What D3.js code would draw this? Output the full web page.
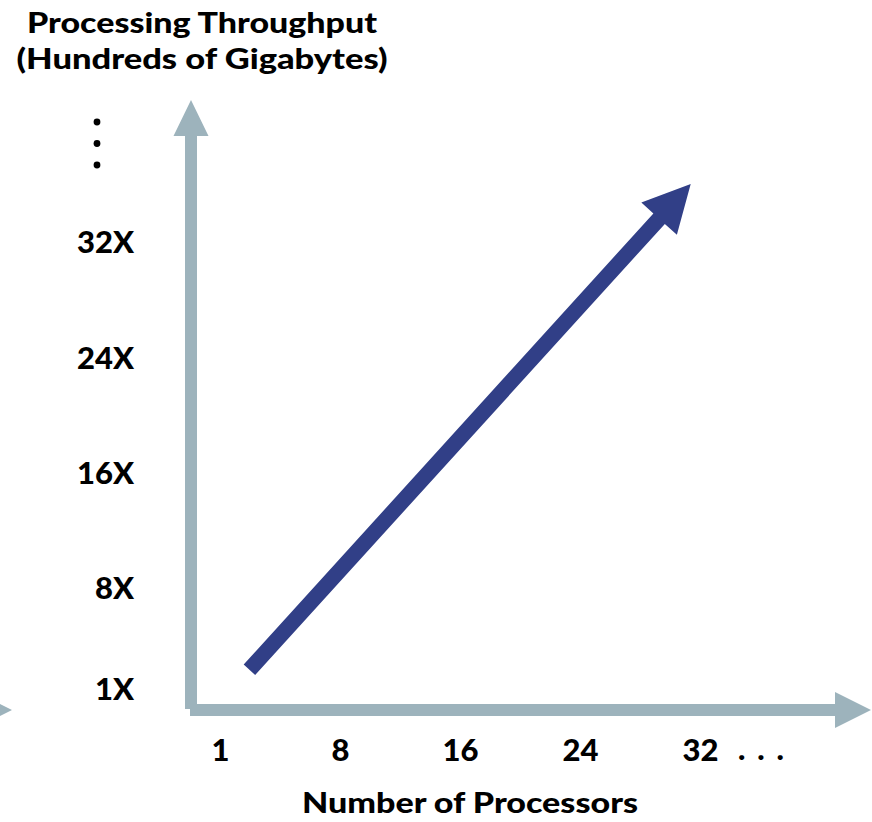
<!DOCTYPE html>
<html>
<head>
<meta charset="utf-8">
<script src="https://cdn.jsdelivr.net/npm/d3@7"></script>
<style>
  body { margin: 0; background: #fff; }
  svg { display: block; }
  text { font-family: Lato, "Open Sans", sans-serif; font-weight: 900; fill: #000; }
</style>
</head>
<body>
<svg id="chart" width="872" height="822"></svg>
<script>
// Tick categories and labels
const processorTicks = ["1", "8", "16", "24", "32"];
const speedupTicks = [1, 8, 16, 24, 32];
const speedupSuffix = "X";

// Scaling trend: start and end of the growth arrow
const trendProcessors = [2.9, 31.4];
const trendSpeedup = [2.4, 36.1];

// Titles
const yTitleLines = ["Processing Throughput", "(Hundreds of Gigabytes)"];
const xTitle = "Number of Processors";

const W = 872, H = 822;
const axisColor = "#9db3bc";
const trendColor = "#313f87";
const originX = 191, originY = 710;
const labelFont = "Lato, 'Open Sans', sans-serif";

const svg = d3.select("#chart");

// Scales
const x = d3.scalePoint().domain(processorTicks).range([220, 700]);
const xLin = d3.scaleLinear().domain([+processorTicks[0], +processorTicks[processorTicks.length - 1]])
  .range([x(processorTicks[0]), x(processorTicks[processorTicks.length - 1])]);
const y = d3.scaleLinear().domain([1, 32]).range([690, 243]);

// Block arrow polygon from (x1,y1) to tip (x2,y2)
function arrowPoints(x1, y1, x2, y2, shaft, headLen, headHalf) {
  const dx = x2 - x1, dy = y2 - y1, L = Math.hypot(dx, dy);
  const ux = dx / L, uy = dy / L, nx = -uy, ny = ux;
  const bx = x2 - ux * headLen, by = y2 - uy * headLen;
  const s = shaft / 2;
  return [
    [x1 + nx * s, y1 + ny * s],
    [bx + nx * s, by + ny * s],
    [bx + nx * headHalf, by + ny * headHalf],
    [x2, y2],
    [bx - nx * headHalf, by - ny * headHalf],
    [bx - nx * s, by - ny * s],
    [x1 - nx * s, y1 - ny * s]
  ];
}
const line = d3.line();
function drawArrow(pts, fill) {
  svg.append("path").attr("d", line(pts) + "Z").attr("fill", fill);
}

// Partial arrowhead at the left edge
drawArrow(arrowPoints(-60, originY, 12, originY, 12, 36, 18), axisColor);

// Axes as block arrows
drawArrow(arrowPoints(originX, originY - 1, originX, 100, 12, 36, 17.5), axisColor);
drawArrow(arrowPoints(originX - 1, originY, W - 1, originY, 12, 36, 18), axisColor);

// Growth arrow
drawArrow(arrowPoints(
  xLin(trendProcessors[0]), y(trendSpeedup[0]),
  xLin(trendProcessors[1]), y(trendSpeedup[1]),
  15.5, 47, 24), trendColor);

function styleTicks(g) {
  g.select(".domain").remove();
  g.selectAll("text")
    .style("font-family", labelFont)
    .style("font-weight", 900)
    .style("font-size", "31px")
    .attr("fill", "#000");
}

// X tick labels
svg.append("g")
  .attr("transform", `translate(0,${originY})`)
  .call(d3.axisBottom(x).tickSize(0).tickPadding(29))
  .call(styleTicks);

// Continuation dots after the last processor tick
svg.append("text")
  .attr("x", x(processorTicks[processorTicks.length - 1]) + 38)
  .attr("y", originY + 50)
  .attr("font-size", "31px")
  .attr("textLength", 46)
  .attr("lengthAdjust", "spacing")
  .text(". . .");

// Y tick labels
svg.append("g")
  .attr("transform", `translate(${originX},0)`)
  .call(d3.axisLeft(y).tickValues(speedupTicks).tickSize(0).tickPadding(57)
    .tickFormat(d => d + speedupSuffix))
  .call(styleTicks);

// Vertical continuation dots above the top tick
svg.append("g").selectAll("circle")
  .data([0, 1, 2])
  .join("circle")
  .attr("cx", 97)
  .attr("cy", i => 122 + i * 21.5)
  .attr("r", 3.4)
  .attr("fill", "#000");

// Y title
svg.append("g").selectAll("text")
  .data(yTitleLines)
  .join("text")
  .attr("x", 202)
  .attr("y", (d, i) => 33 + i * 36)
  .attr("text-anchor", "middle")
  .attr("font-size", "28px")
  .attr("textLength", (d, i) => [350, 371][i])
  .attr("lengthAdjust", "spacingAndGlyphs")
  .text(d => d);

// X title
svg.append("text")
  .attr("x", 470)
  .attr("y", 813)
  .attr("text-anchor", "middle")
  .attr("font-size", "28px")
  .attr("textLength", 336)
  .attr("lengthAdjust", "spacingAndGlyphs")
  .text(xTitle);
</script>
</body>
</html>
